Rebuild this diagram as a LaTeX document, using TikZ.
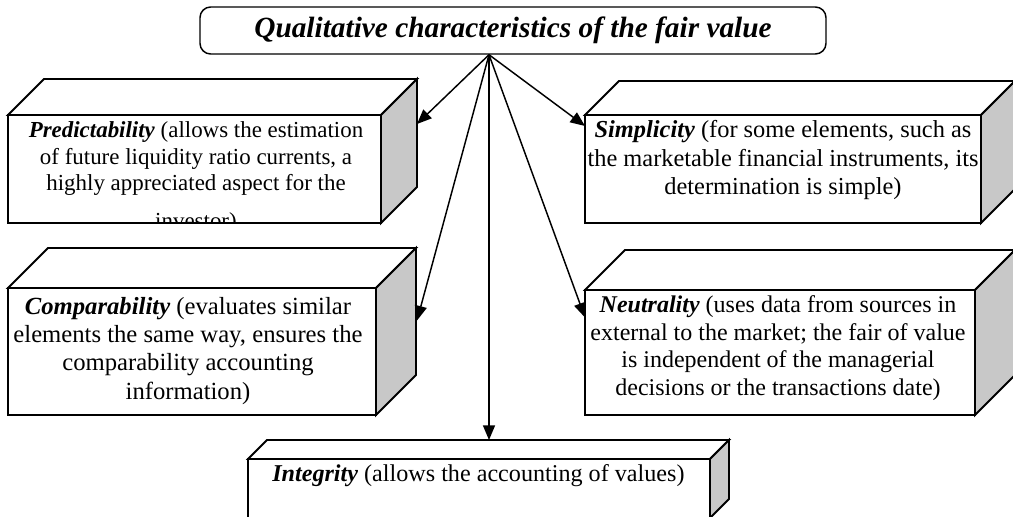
\documentclass[tikz,border=0pt]{standalone}
\usepackage{fontspec}
\setmainfont{Liberation Serif}
\usetikzlibrary{calc,arrows.meta}
\definecolor{fvSideGrey}{HTML}{C8C8C8}
\tikzset{
  slab face/.style={draw, fill=white, line width=1.4pt,
    inner sep=0pt, outer sep=0pt},
  slab text/.style={anchor=north, align=center, inner sep=0pt},
  fv arrow/.style={-{Triangle[length=11pt, width=9pt]},
    line width=1.1pt},
}
% top and side faces of a slab: #1 = front node, #2 = depth
\newcommand{\slabdepth}[2]{%
  \draw[slab face] (#1.north west) -- ++(#2,-#2)
    -- ($(#1.north east)+(#2,-#2)$) -- (#1.north east) -- cycle;
  \draw[slab face, fill=fvSideGrey] (#1.north east) -- ++(#2,-#2)
    -- ($(#1.south east)+(#2,-#2)$) -- (#1.south east) -- cycle;
}
\newcommand{\term}[1]{\textbf{\textit{#1}}}

\begin{document}
\begin{tikzpicture}[x=0.75pt, y=-0.75pt]
\useasboundingbox (0,0) rectangle (1013,517);
\clip (0,0) rectangle (1013,517);

% --- TITLE ---
\node[draw, rounded corners=8pt, line width=1.1pt, inner sep=0pt,
      minimum width=626*0.75pt, minimum height=47*0.75pt,
      font=\fontsize{22}{26}\selectfont\bfseries\itshape]
  (title) at (513,30.5) {Qualitative characteristics of the fair value};
\coordinate (hub) at ($(title.south)+(-24,0)$);

% --- SLABS (front face, then depth) ---
\node[slab face, minimum width=373*0.75pt, minimum height=108*0.75pt]
  (pred) at (194.5,169) {};
\slabdepth{pred}{36}
\node[slab face, minimum width=396*0.75pt, minimum height=108*0.75pt]
  (simp) at (783,169) {};
\slabdepth{simp}{34}
\node[slab face, minimum width=368*0.75pt, minimum height=127*0.75pt]
  (comp) at (192,351.5) {};
\slabdepth{comp}{40}
\node[slab face, minimum width=390*0.75pt, minimum height=125*0.75pt]
  (neut) at (780,352.5) {};
\slabdepth{neut}{40}
\node[slab face, minimum width=462*0.75pt, minimum height=59*0.75pt]
  (integ) at (479,488.5) {};
\slabdepth{integ}{19}

% --- TEXTS ---
\begin{scope}
  \clip (pred.south west) rectangle (pred.north east);
  \node[slab text, font=\fontsize{17.2}{20}\selectfont]
    (pred text) at ($(pred.north)+(1.5,6.2)$)
    {\term{Predictability} (allows the estimation\\
     of future liquidity ratio currents, a\\
     highly appreciated aspect for the\\[8pt]
     investor)};
\end{scope}
\node[slab text, font=\fontsize{18.3}{21.3}\selectfont]
  (simp text) at ($(simp.north)+(0,5.2)$)
  {\term{Simplicity} (for some elements, such as\\
   the marketable financial instruments, its\\
   determination is simple)};
\node[slab text, font=\fontsize{18.5}{21.2}\selectfont]
  (comp text) at ($(comp.north)+(-4,9)$)
  {\term{Comparability} (evaluates similar\\
   elements the same way, ensures the\\
   comparability accounting\\
   information)};
\node[slab text, font=\fontsize{18}{20.7}\selectfont]
  (neut text) at ($(neut.north)+(-2,5.4)$)
  {\term{Neutrality} (uses data from sources in\\
   external to the market; the fair of value\\
   is independent of the managerial\\
   decisions or the transactions date)};
\node[slab text, anchor=north west, font=\fontsize{18.1}{20.8}\selectfont]
  (integ text) at ($(integ.north west)+(24,5.5)$)
  {\term{Integrity} (allows the accounting of values)};

% --- ARROWS from the title ---
\draw[fv arrow] (hub) -- ($(pred.east)+(36,-45)$);
\draw[fv arrow] (hub) -- ($(simp.west)+(0,-43)$);
\draw[fv arrow] (hub) -- ($(comp.east)+(41,-31)$);
\draw[fv arrow] (hub) -- ($(neut.west)+(0,-35)$);
\draw[fv arrow] (hub) -- ($(integ.north)+(10,-19)$);

\end{tikzpicture}
\end{document}
